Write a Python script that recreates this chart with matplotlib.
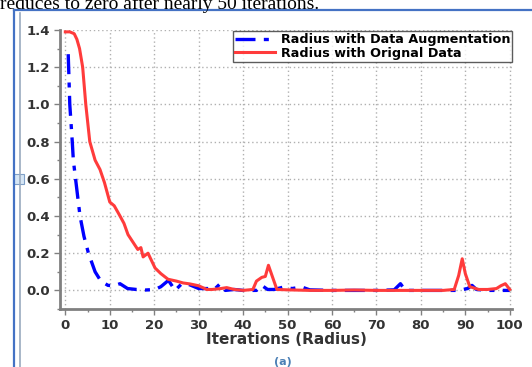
import matplotlib
matplotlib.use('Agg')
import matplotlib.pyplot as plt
from matplotlib.lines import Line2D
from matplotlib.patches import Rectangle
from matplotlib.ticker import MultipleLocator

# radius with original data (red)
orig_x = [0, 1, 2, 2.6, 3.2, 3.9, 4.6, 5.5, 6.7, 7.8, 8.8, 10, 11, 12.3, 13.2, 14.1, 15.2, 16.3, 17, 17.5,
          18.6, 19.4, 20.2, 21.5, 23.1, 25, 26.5, 28, 30, 31.8, 33, 35, 36.3, 38, 40, 42.2, 43, 44.2,
          45, 45.7, 46.5, 47.6, 50, 55, 60, 65, 70, 75, 80, 85, 87.5, 88.5, 89.3, 90, 91, 93,
          95, 97, 98, 99, 100]
orig_y = [1.39, 1.39, 1.38, 1.35, 1.30, 1.20, 1.00, 0.80, 0.70, 0.65, 0.58, 0.475, 0.455, 0.40, 0.36, 0.30, 0.26, 0.22, 0.23, 0.18,
          0.20, 0.16, 0.12, 0.09, 0.06, 0.05, 0.04, 0.035, 0.025, 0.005, 0.005, 0.01, 0.015, 0.005, 0.0, 0.005, 0.05, 0.07,
          0.075, 0.135, 0.08, 0.005, 0.003, 0.0, 0.0, 0.002, 0.0, 0.0, 0.0, 0.0, 0.005, 0.08, 0.17, 0.09, 0.02, 0.005,
          0.005, 0.01, 0.025, 0.036, 0.005]

# radius with data augmentation (blue)
aug_x = [0.65, 1.0, 1.56, 1.8, 2.3, 3.3, 4.2, 5.2, 6.7, 8, 9.6, 11, 12.3, 14, 16, 18, 20.2, 21.5,
         23.2, 24.7, 26.2, 28, 30, 32, 33.5, 34.8, 36, 38, 40, 43, 44.2, 45.5, 47, 49.1, 51,
         53.2, 55, 60, 65, 70, 74, 75.4, 76.5, 80, 85, 88.5, 89.5, 90.5, 91.5, 92.5, 95, 98, 100]
aug_y = [1.27, 1.0, 0.8, 0.70, 0.6, 0.4, 0.29, 0.2, 0.1, 0.05, 0.027, 0.025, 0.036, 0.01, 0.005, 0.002, 0.005, 0.02,
         0.054, 0.0, 0.036, 0.03, 0.01, 0.01, 0.005, 0.035, 0.0, 0.005, 0.0, 0.0, 0.027, 0.005, 0.005, 0.018, 0.01,
         0.018, 0.003, 0.0, 0.0, 0.0, 0.003, 0.036, 0.0, 0.0, 0.0, 0.0, 0.005, 0.01, 0.027, 0.005, 0.0, 0.0, 0.0]

fig = plt.figure(figsize=(5.32, 3.67), dpi=100)

# page decoration around the figure (text line of the document above the figure)
fig.text(0.0, 1 - 9 / 367, 'reduces to zero after nearly 50 iterations.', family='Liberation Serif',
         fontsize=14, va='baseline', ha='left')
fig.add_artist(Line2D([14 / 532, 14 / 532], [0, 1 - 10 / 367], color='#4472c4', lw=1.6))
fig.add_artist(Line2D([14 / 532, 1], [1 - 10 / 367, 1 - 10 / 367], color='#4472c4', lw=1.6))
fig.add_artist(Line2D([20 / 532, 20 / 532], [0, 1 - 13 / 367], color='#9aaabf', lw=1.2))
fig.add_artist(Rectangle((13 / 532, 1 - 184 / 367), 11 / 532, 10 / 367, facecolor='#d6e6f5',
                         edgecolor='#7fa0c8', lw=0.8))

ax = fig.add_axes([60 / 532, 1 - 309 / 367, 452 / 532, 279 / 367])
ax.plot(aug_x, aug_y, color='#0000ff', lw=2.4, linestyle=(0, (6, 2.5, 1.5, 2.5)),
        label='Radius with Data Augmentation')
ax.plot(orig_x, orig_y, color='#ff3b3b', lw=2.2, label='Radius with Orignal Data')

ax.set_xlim(-1.2, 100.5)
ax.set_ylim(-0.1, 1.4)
ax.xaxis.set_major_locator(MultipleLocator(10))
ax.xaxis.set_minor_locator(MultipleLocator(5))
ax.yaxis.set_major_locator(MultipleLocator(0.2))
ax.yaxis.set_minor_locator(MultipleLocator(0.1))
ax.grid(True, which='major', linestyle=(0, (1, 2)), color='#b0b0b0', lw=1)

for s in ['top', 'right']:
    ax.spines[s].set_visible(False)
for s in ['left', 'bottom']:
    ax.spines[s].set_color('#808080')
    ax.spines[s].set_linewidth(2)
ax.tick_params(which='major', length=4, width=1, color='#808080', labelsize=9.5, pad=3)
ax.tick_params(which='minor', length=2.5, width=1, color='#808080')
for lab in ax.get_xticklabels() + ax.get_yticklabels():
    lab.set_fontweight('bold')
    lab.set_color('#333333')

ax.set_xlabel('Iterations (Radius)', fontsize=11, fontweight='bold', color='#333333', labelpad=0)

leg = ax.legend(loc='upper right', prop={'weight': 'bold', 'size': 9.2}, frameon=True,
                fancybox=False, borderpad=0.15, handlelength=3.2, labelspacing=0.05,
                borderaxespad=0.0, handletextpad=0.4, bbox_to_anchor=(1.0, 0.995))
leg.get_frame().set_edgecolor('#333333')
leg.get_frame().set_linewidth(1)

fig.text(283 / 532, 1 - 362 / 367, '(a)', fontsize=8, fontweight='bold', color='#4a7fb5',
         ha='center', va='center')

fig.savefig('out.png', dpi=100)
